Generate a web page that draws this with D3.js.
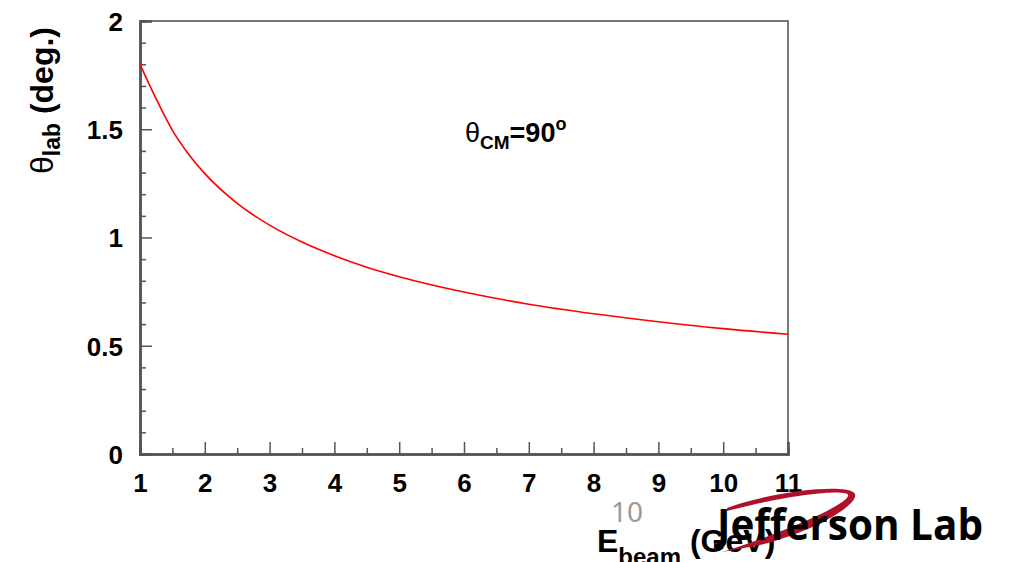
<!DOCTYPE html>
<html>
<head>
<meta charset="utf-8">
<script src="https://cdn.jsdelivr.net/npm/d3@7"></script>
<style>
  body { margin: 0; background: #fff; }
  svg { display: block; }
</style>
</head>
<body>
<svg id="chart" width="1010" height="562"></svg>
<script>
// beam energy (GeV) and lab angle (deg)
let energies = [1, 1.25, 1.5, 1.75, 2, 2.5, 3, 3.5, 4, 4.5, 5, 6, 7, 8, 9, 10, 11];
let thetaLab = [1.80, 1.64, 1.495, 1.385, 1.295, 1.158, 1.057, 0.979, 0.916, 0.863, 0.819, 0.748, 0.692, 0.648, 0.611, 0.579, 0.553];
let xTicks = [1, 2, 3, 4, 5, 6, 7, 8, 9, 10, 11];
let yTicks = [0, 0.5, 1, 1.5, 2];
let yTickLabels = ["0", "0.5", "1", "1.5", "2"];

let svg = d3.select("#chart");
let plotLeft = 140, plotRight = 788, plotTop = 21, plotBottom = 454;

let x = d3.scaleLinear().domain([1, 11]).range([plotLeft, plotRight]);
let y = d3.scaleLinear().domain([0, 2]).range([plotBottom, plotTop]);

let font = "'Liberation Sans', Arial, Helvetica, sans-serif";
let axisColor = "#555";

// frame (top and right sides, no ticks)
svg.append("path")
    .attr("d", `M${plotLeft},${plotTop} H${plotRight} V${plotBottom}`)
    .attr("fill", "none")
    .attr("stroke", "#777")
    .attr("stroke-width", 2);

// minor ticks
let minorX = d3.range(1.5, 11, 1);
let minorY = d3.range(0, 2.001, 0.1).filter(v => Math.abs(v * 2 - Math.round(v * 2)) > 1e-6);

let gx = svg.append("g").attr("transform", `translate(0,${plotBottom})`);
gx.call(d3.axisBottom(x).tickValues(minorX).tickSize(-6).tickFormat(""));
gx.call(g => g.selectAll(".tick line").attr("stroke", axisColor).attr("stroke-width", 1.5));
let gxMaj = svg.append("g").attr("transform", `translate(0,${plotBottom})`)
    .call(d3.axisBottom(x).tickValues(xTicks).tickSize(-12).tickPadding(20).tickFormat(d3.format("d")));

let gy = svg.append("g").attr("transform", `translate(${plotLeft},0)`);
gy.call(d3.axisLeft(y).tickValues(minorY).tickSize(-6).tickFormat(""));
gy.call(g => g.selectAll(".tick line").attr("stroke", axisColor).attr("stroke-width", 1.5));
let gyMaj = svg.append("g").attr("transform", `translate(${plotLeft},0)`)
    .call(d3.axisLeft(y).tickValues(yTicks).tickSize(-12).tickPadding(17)
        .tickFormat((d, i) => yTickLabels[i]));

svg.selectAll(".domain").attr("stroke", axisColor).attr("stroke-width", 2.5);
[gxMaj, gyMaj].forEach(g => {
    g.selectAll(".tick line").attr("stroke", axisColor).attr("stroke-width", 1.5);
    g.selectAll(".tick text")
        .attr("font-family", font)
        .attr("font-weight", "bold")
        .attr("font-size", 26)
        .attr("fill", "#000");
});
gyMaj.selectAll(".tick text").attr("dy", "0.36em");
gxMaj.selectAll(".tick text").attr("dy", "0.68em");

// the curve
let pts = energies.map((e, i) => [e, thetaLab[i]]);
let line = d3.line()
    .x(d => x(d[0]))
    .y(d => y(d[1]))
    .curve(d3.curveMonotoneX);

svg.append("path")
    .datum(pts)
    .attr("d", line)
    .attr("fill", "none")
    .attr("stroke", "#ff0000")
    .attr("stroke-width", 1.6);

// y-axis title
let yt = svg.append("text")
    .attr("transform", "translate(53,27) rotate(-90)")
    .attr("text-anchor", "end")
    .attr("font-family", font)
    .attr("font-size", 32)
    .attr("fill", "#000");
yt.append("tspan").text("θ");
yt.append("tspan").attr("font-size", 23).attr("font-weight", "bold").attr("dy", 7).text("lab");
yt.append("tspan").attr("font-weight", "bold").attr("dy", -7).text(" (deg.)");

// annotation
let ann = svg.append("text")
    .attr("x", 465)
    .attr("y", 142)
    .attr("font-family", font)
    .attr("font-size", 27)
    .attr("fill", "#000");
ann.append("tspan").text("θ");
ann.append("tspan").attr("font-size", 19).attr("font-weight", "bold").attr("dy", 7).text("CM");
ann.append("tspan").attr("font-weight", "bold").attr("dy", -7).text("=90");
ann.append("tspan").attr("font-size", 18).attr("font-weight", "bold").attr("dy", -12).text("o");

// x-axis title (partly cut off by page edge)
let xt = svg.append("text")
    .attr("x", 597)
    .attr("y", 552)
    .attr("font-family", font)
    .attr("font-weight", "bold")
    .attr("font-size", 32)
    .attr("fill", "#000");
xt.append("tspan").text("E");
xt.append("tspan").attr("font-size", 24).attr("dy", 13).text("beam");
xt.append("tspan").attr("dy", -13).text(" (GeV)");

// slide page number
svg.append("text")
    .attr("x", 611)
    .attr("y", 522)
    .attr("font-family", "'Noto Sans', sans-serif")
    .attr("font-size", 28)
    .attr("fill", "#999")
    .text("10");

// Jefferson Lab logo
svg.append("path")
    .attr("d", "M727,508 C770,492 840,484 853,492 C866,500 820,530 760,545 L722,552 C780,534 845,506 848,496 C852,488 790,494 727,511 Z")
    .attr("fill", "#b0102a");
svg.append("text")
    .attr("x", 717)
    .attr("y", 540)
    .attr("font-family", "'Open Sans', 'Noto Sans', sans-serif")
    .attr("font-weight", 700)
    .attr("font-size", 43)
    .attr("textLength", 266)
    .attr("lengthAdjust", "spacingAndGlyphs")
    .attr("fill", "#000")
    .text("Jefferson Lab");
</script>
</body>
</html>
